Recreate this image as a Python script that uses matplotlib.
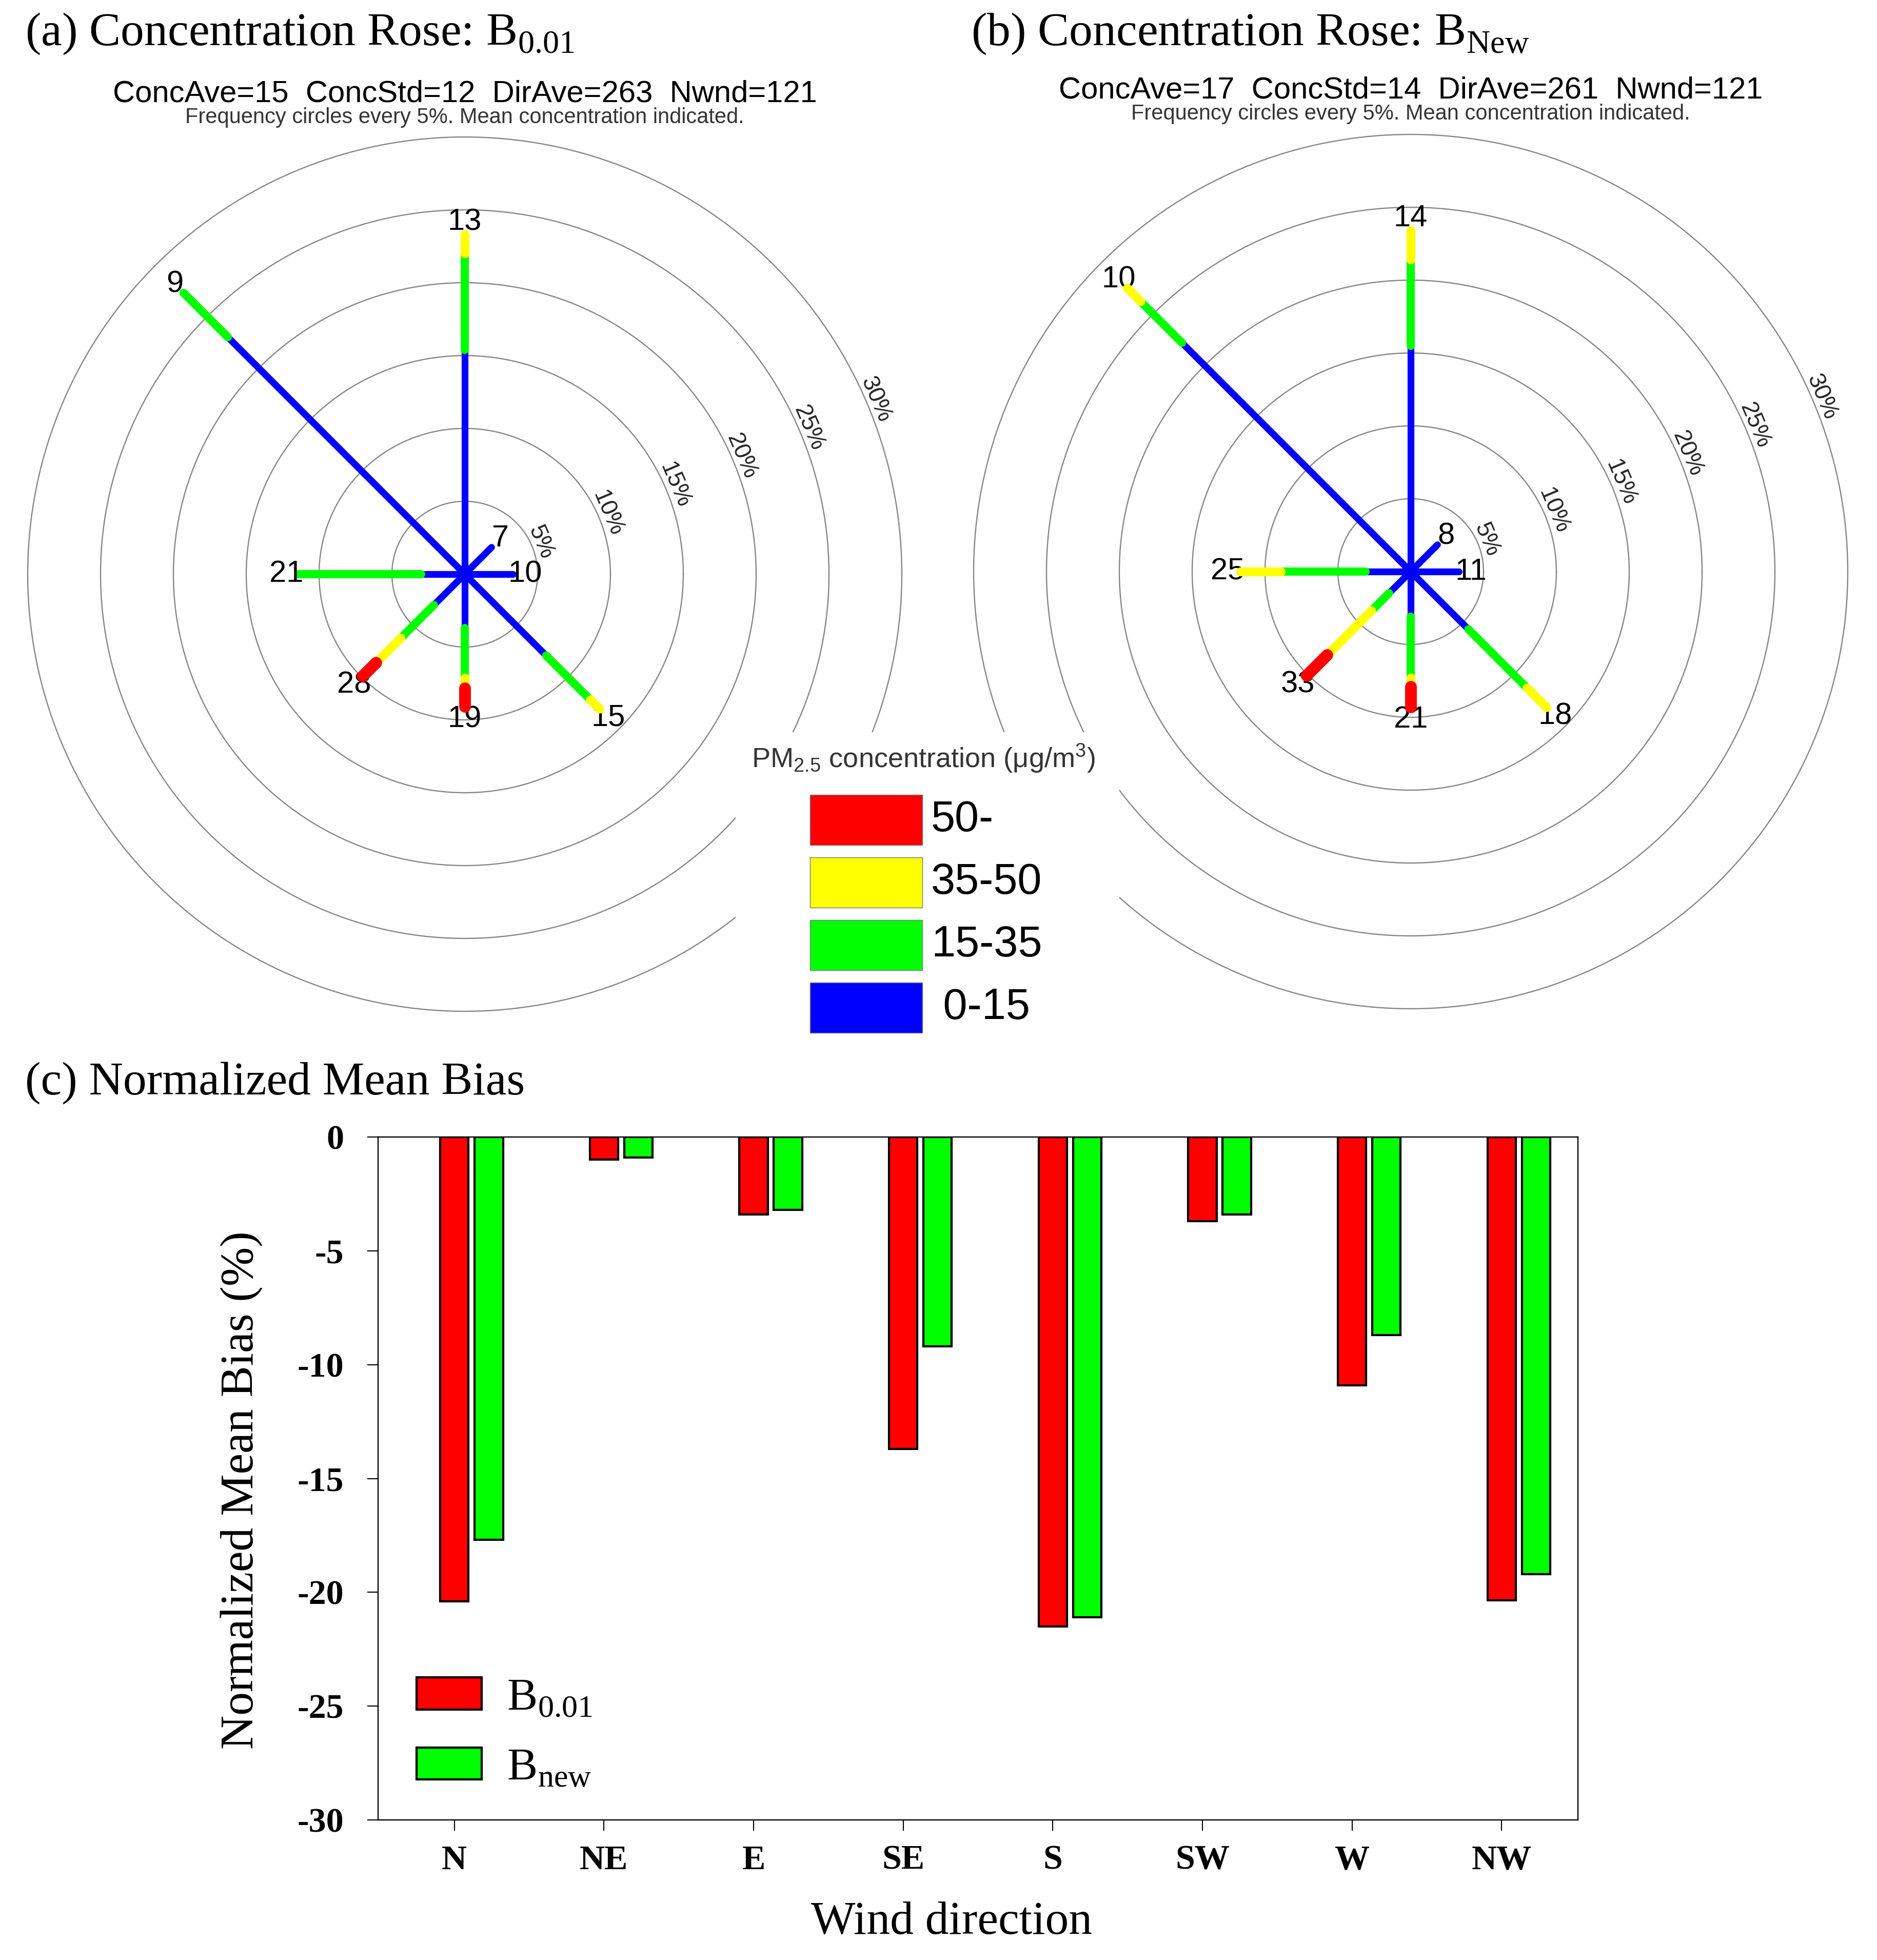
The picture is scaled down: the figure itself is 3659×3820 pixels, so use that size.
import numpy as np
import matplotlib.pyplot as plt
from matplotlib.patches import Rectangle

plt.rcParams['font.family'] = ['Liberation Sans', 'DejaVu Sans']
plt.rcParams['mathtext.fontset'] = 'custom'
plt.rcParams['mathtext.rm'] = 'Liberation Serif'
plt.rcParams['mathtext.sf'] = 'Liberation Sans'
plt.rcParams['axes.unicode_minus'] = False

# ---- data ----
directions = ['N', 'NE', 'E', 'SE', 'S', 'SW', 'W', 'NW']
bearings = [0, 45, 90, 135, 180, 225, 270, 315]

# frequency (%) per concentration bin and direction, panel (a) B0.01
a_0_15 = [15.4, 2.6, 3.3, 7.9, 3.7, 3.0, 3.0, 23.0]
a_15_35 = [6.6, 0, 0, 4.3, 3.4, 3.2, 8.4, 4.3]
a_35_50 = [1.3, 0, 0, 0.9, 0.7, 2.4, 0, 0]
a_50_up = [0, 0, 0, 0, 1.3, 1.3, 0, 0]
conc_a = [13, 7, 10, 15, 19, 28, 21, 9]
stats_a = 'ConcAve=15  ConcStd=12  DirAve=263  Nwnd=121'

# panel (b) BNew
b_0_15 = [15.5, 2.6, 3.3, 5.6, 3.1, 2.1, 3.1, 22.2]
b_15_35 = [5.9, 0, 0, 5.7, 4.2, 1.7, 5.8, 4.0]
b_35_50 = [2.0, 0, 0, 1.9, 0.6, 4.3, 2.8, 1.3]
b_50_up = [0, 0, 0, 0, 1.4, 2.0, 0, 0]
conc_b = [14, 8, 11, 18, 21, 33, 25, 10]
stats_b = 'ConcAve=17  ConcStd=14  DirAve=261  Nwnd=121'

rings = [5, 10, 15, 20, 25, 30]
bin_labels = ['50-', '35-50', '15-35', ' 0-15']

# normalized mean bias (%)
nmb_b001 = [-20.4, -1.0, -3.4, -13.7, -21.5, -3.7, -10.9, -20.35]
nmb_bnew = [-17.7, -0.9, -3.2, -9.2, -21.1, -3.4, -8.7, -19.2]

# ---- layout ----
W, H = 3659, 3820
fig = plt.figure(figsize=(W / 100, H / 100), dpi=100)


def fx(x):
    return x / W


def fy(y):
    return 1 - y / H


def px_rect(x0, y0, x1, y1):
    return [x0 / W, 1 - y1 / H, (x1 - x0) / W, (y1 - y0) / H]


bin_colors = ['#0000ff', '#00ff00', '#ffff00', '#ff0000']
bin_widths = [9.5, 11.5, 12.5, 16.5]
PX_PER_PCT = 28.4
R = 31


def rose(cx, cy, bins, conc):
    half = R * PX_PER_PCT
    ax = fig.add_axes(px_rect(cx - half, cy - half, cx + half, cy + half))
    ax.set_xlim(-R, R)
    ax.set_ylim(-R, R)
    ax.set_aspect('equal')
    ax.axis('off')
    th = np.linspace(0, 2 * np.pi, 721)
    lab_ang = np.deg2rad(23)
    for r in rings:
        ax.plot(r * np.cos(th), r * np.sin(th), color='#858585', lw=1.7,
                clip_on=False, zorder=1)
        ax.text((r + 0.65) * np.cos(lab_ang), (r + 0.65) * np.sin(lab_ang), f'{r}%',
                rotation=-67, ha='center', va='center', fontsize=33, color='#222222')
    for i, b in enumerate(bearings):
        ang = np.deg2rad(90 - b)
        ux, uy = np.cos(ang), np.sin(ang)
        start = 0
        for k in range(4):
            f = bins[k][i]
            if f <= 0:
                continue
            end = start + f
            ax.plot([start * ux, end * ux], [start * uy, end * uy], color=bin_colors[k],
                    lw=bin_widths[k], solid_capstyle='round', zorder=2 + k, clip_on=False)
            start = end
        rl = start + 0.85
        ax.text(rl * ux, rl * uy, str(conc[i]), ha='center', va='center', fontsize=43)
    return ax


rose(906, 1119, [a_0_15, a_15_35, a_35_50, a_50_up], conc_a)
rose(2750, 1114, [b_0_15, b_15_35, b_35_50, b_50_up], conc_b)

fig.text(fx(49), fy(88), r'(a) Concentration Rose: B$_{\mathrm{0.01}}$',
         family='Liberation Serif', fontsize=66, va='baseline')
fig.text(fx(1893), fy(88), r'(b) Concentration Rose: B$_{\mathrm{New}}$',
         family='Liberation Serif', fontsize=66, va='baseline')
fig.text(fx(906), fy(183), stats_a, ha='center', va='center', fontsize=43)
fig.text(fx(2750), fy(176), stats_b, ha='center', va='center', fontsize=43)
fig.text(fx(906), fy(229), 'Frequency circles every 5%. Mean concentration indicated.',
         ha='center', va='center', fontsize=30, color='#333333')
fig.text(fx(2750), fy(222), 'Frequency circles every 5%. Mean concentration indicated.',
         ha='center', va='center', fontsize=30, color='#333333')

# concentration legend (white panel covering the outer rings)
lg = fig.add_axes(px_rect(1434, 1427, 2182, 2075), zorder=10)
lg.set_xlim(1434, 2182)
lg.set_ylim(2075, 1427)
lg.set_facecolor('white')
lg.set_xticks([])
lg.set_yticks([])
for s in lg.spines.values():
    s.set_visible(False)
lg.text(1800, 1478, r'PM$_{\mathsf{2.5}}$ concentration (μg/m$^{\mathsf{3}}$)',
        ha='center', va='center', fontsize=39, color='#333333')
for k, lab in enumerate(bin_labels):
    y0 = 1549 + k * 122
    col = bin_colors[3 - k]
    lg.add_patch(Rectangle((1579, y0), 219, 98, facecolor=col, edgecolor='#777777', lw=1))
    lg.text(1815, y0 + 49, lab, ha='left', va='center', fontsize=61)

# ---- (c) bar chart ----
fig.text(fx(49), fy(2133), '(c) Normalized Mean Bias', family='Liberation Serif',
         fontsize=66, va='baseline')

ax = fig.add_axes(px_rect(737, 2216, 3076, 3547))
x = np.arange(len(directions))
ax.bar(x, nmb_b001, width=0.19, color='#ff0000', edgecolor='black', lw=3,
       label=r'B$_{\mathrm{0.01}}$')
ax.bar(x + 0.23, nmb_bnew, width=0.19, color='#00ff00', edgecolor='black', lw=3,
       label=r'B$_{\mathrm{new}}$')
ax.set_xlim(-0.51, 7.51)
ax.set_ylim(-30, 0)
yt = list(range(-30, 1, 5))
ax.set_yticks(yt)
ax.set_yticklabels([str(v) for v in yt])
ax.set_xticks(x)
ax.set_xticklabels(directions)
for lab in ax.get_xticklabels() + ax.get_yticklabels():
    lab.set_family('Liberation Serif')
    lab.set_fontweight('bold')
    lab.set_fontsize(49)
ax.tick_params(axis='both', direction='out', length=15, width=1.5)
ax.tick_params(axis='y', pad=33)
ax.tick_params(axis='x', pad=20)
for s in ax.spines.values():
    s.set_linewidth(1.7)
ax.set_ylabel('Normalized Mean Bias (%)', family='Liberation Serif', fontsize=66)
ax.yaxis.set_label_coords(-0.096, 0.483)
ax.set_xlabel('Wind direction', family='Liberation Serif', fontsize=66)
ax.xaxis.set_label_coords(0.478, -0.119)
ax.legend(loc='lower left', bbox_to_anchor=(0.032, 0.045), frameon=False,
          prop={'family': 'Liberation Serif', 'size': 64}, handlelength=1.43,
          handleheight=0.71, handletextpad=0.55, labelspacing=0.62,
          borderaxespad=0, borderpad=0)

fig.savefig('out.png', dpi=100)
